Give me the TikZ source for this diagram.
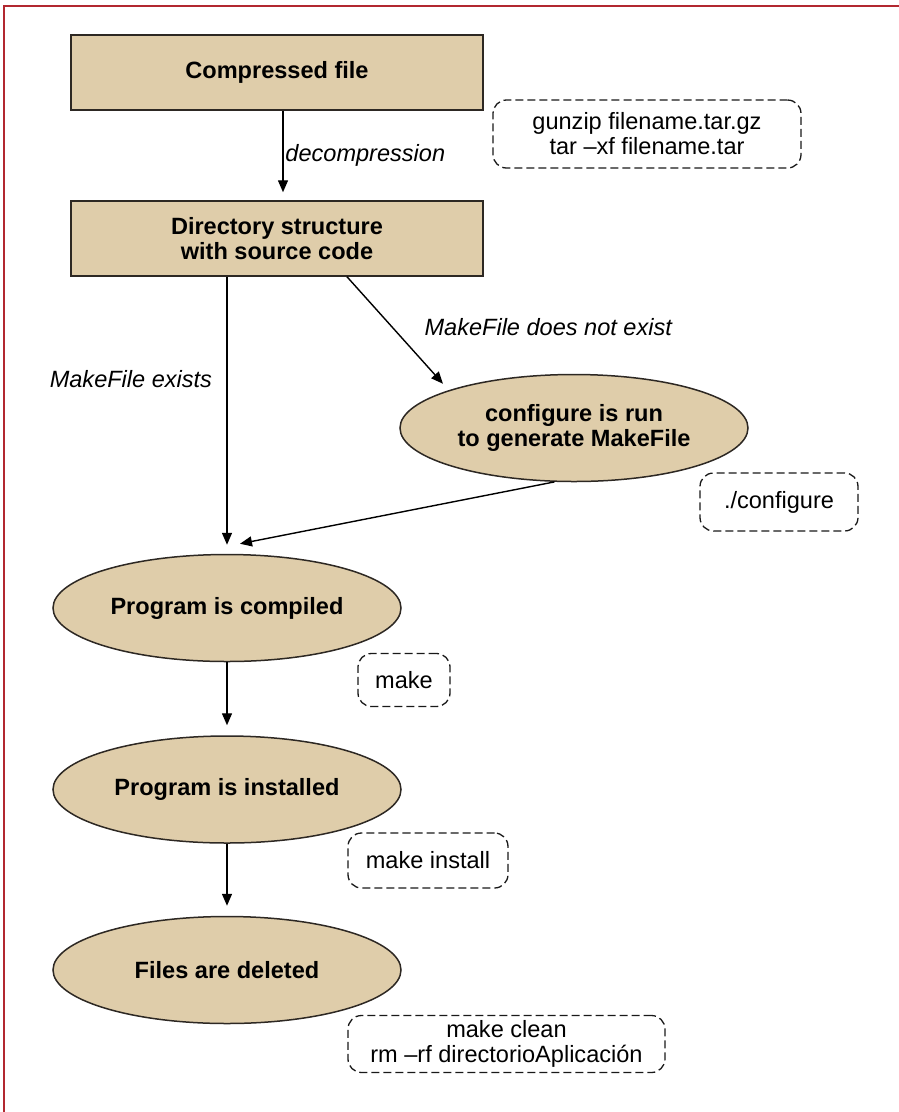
\documentclass[tikz,border=0pt]{standalone}
\usepackage{fontspec}
\setmainfont{Liberation Sans}
\usepackage{tikz}
\usetikzlibrary{arrows.meta,calc,positioning,shapes.geometric}
\definecolor{stagefill}{RGB}{223,205,170}
\definecolor{stageline}{RGB}{45,40,35}
\definecolor{framered}{RGB}{178,40,48}
\tikzset{
  stagebox/.style={rectangle,draw=stageline,fill=stagefill,line width=0.03cm,
    minimum width=8.24cm,minimum height=1.5cm,inner sep=0pt,
    font=\fontsize{13.4}{14.2}\selectfont\bfseries,align=center},
  stageell/.style={ellipse,draw=stageline,fill=stagefill,line width=0.03cm,
    minimum width=6.96cm,minimum height=2.14cm,inner sep=0pt,
    font=\fontsize{13.4}{14.2}\selectfont\bfseries,align=center},
  cmdbox/.style={rectangle,rounded corners=0.27cm,draw=black!90,line width=0.026cm,
    dash pattern=on 0.16cm off 0.08cm,inner sep=0pt,
    font=\fontsize{13.4}{14.2}\selectfont,align=center},
  flow/.style={-{Triangle[length=0.24cm,width=0.2cm]},line width=0.028cm,
    shorten >=0.18cm},
  flowlabel/.style={font=\fontsize{13.4}{14.2}\selectfont\itshape,inner sep=1pt}
}

\begin{document}
\begin{tikzpicture}
  \useasboundingbox (0,0) rectangle (17.98,-22.24);
  \draw[framered,line width=0.04cm] (0.09,-22.24) -- (0.09,-0.12) -- (17.98,-0.12);
  \node[stagebox] (cf) at (5.54,-1.45) {Compressed file};
  \node[stagebox] (dir) at (5.54,-4.77) {Directory structure\\with source code};
  \node[stageell] (cfg) at (11.48,-8.56) {configure is run\\to generate MakeFile};
  \node[stageell] (comp) at (4.54,-12.16) {Program is compiled};
  \node[stageell] (inst) at (4.54,-15.79) {Program is installed};
  \node[stageell] (del) at (4.54,-19.40) {Files are deleted};
  \node[cmdbox,minimum width=6.16cm,minimum height=1.36cm] (gz) at (12.94,-2.68)
    {gunzip filename.tar.gz\\tar –xf filename.tar};
  \node[cmdbox,minimum width=3.16cm,minimum height=1.16cm] (cfgcmd) at (15.58,-10.04) {./configure};
  \node[cmdbox,minimum width=1.84cm,minimum height=1.06cm] (mk) at (8.08,-13.60) {make};
  \node[cmdbox,minimum width=3.20cm,minimum height=1.10cm] (mkinst) at (8.56,-17.21) {make install};
  \node[cmdbox,minimum width=6.34cm,minimum height=1.14cm] (mkclean) at (10.13,-20.88)
    {make clean\\rm –rf directorioAplicación};
  \draw[flow,shorten >=0.16cm] ([xshift=0.12cm]cf.south) -- node[flowlabel,right] {decompression}
    ([xshift=0.12cm]cf.south |- dir.north);
  \draw[flow] (dir.south -| comp.north) -- node[flowlabel,pos=.37,left=0.25cm] {MakeFile exists} (comp.north);
  \draw[flow,shorten >=0pt] ([xshift=1.4cm]dir.south) -- node[flowlabel,pos=.47,right=0.6cm] {MakeFile does not exist}
    ([xshift=-2.62cm,yshift=-0.2cm]cfg.north);
  \draw[flow,shorten >=0pt] (cfg.250) -- ([xshift=0.26cm,yshift=0.2cm]comp.north);
  \draw[flow,shorten >=0.2cm] (comp) -- (inst);
  \draw[flow,shorten >=0.2cm] (inst) -- (del);
\end{tikzpicture}
\end{document}
